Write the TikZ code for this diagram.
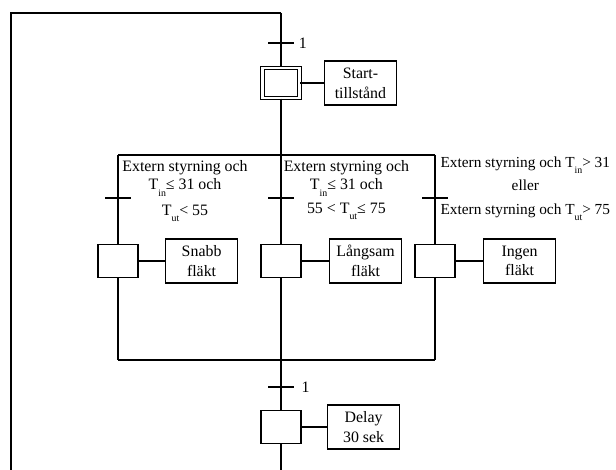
\documentclass[tikz,border=0pt]{standalone}
\usepackage{fontspec}
\setmainfont{Liberation Serif}
\newcommand{\Tind}[1]{T\raisebox{-0.85ex}{\scriptsize #1}}
\tikzset{
  steg/.style={draw, fill=white, minimum width=1cm, minimum height=0.825cm, inner sep=0pt},
  aktion/.style={draw, minimum width=1.8cm, minimum height=1.1cm, align=center, inner sep=1pt},
  villkor/.style={align=center, inner sep=0pt},
}
\begin{document}
\begin{tikzpicture}[line width=0.8pt, font=\fontsize{11.3}{14}\selectfont]
        \useasboundingbox (0,0) rectangle (15.4,11.75);
        %punkter for linjerna
        \coordinate (oTL) at (0.27,11.425);
        \coordinate (oBL) at (0.27,0);
        \coordinate (oTR) at (7.025,11.425);
        \coordinate (slut) at (7.025,0);
        \coordinate (dL) at (2.95,7.875); %divergens
        \coordinate (dM) at (7.025,7.875);
        \coordinate (dR) at (10.875,7.875);
        \coordinate (kL) at (2.95,2.75); %konvergens
        \coordinate (kM) at (7.025,2.75);
        \coordinate (kR) at (10.875,2.75);
        \coordinate (t1) at (7.025,10.675); %overgangar
        \coordinate (tL) at (2.95,6.8);
        \coordinate (tM) at (7.025,6.8);
        \coordinate (tR) at (10.875,6.8);
        \coordinate (t2) at (7.025,2.075);
        %steg och aktioner
        \node[steg, double, double distance=1.8pt, minimum width=0.925cm, minimum height=0.75cm] (init) at (7.025,9.675) {};
        \node[aktion] (start) at (9.01,9.675) {Start-\\tillstånd};
        \node[steg] (s1) at (2.95,5.225) {};
        \node[aktion] (a1) at (5.04,5.225) {Snabb\\fläkt};
        \node[steg] (s2) at (7.025,5.225) {};
        \node[aktion] (a2) at (9.14,5.225) {Långsam\\fläkt};
        \node[steg] (s3) at (10.875,5.225) {};
        \node[aktion] (a3) at (12.99,5.225) {Ingen\\fläkt};
        \node[steg] (d) at (7.025,1.075) {};
        \node[aktion] (delay) at (9.09,1.075) {Delay\\30 sek};
        %yttre slinga
        \draw[line width=1.1pt] (oBL) -- (oTL) -- (oTR);
        \draw (oTR) -- (init.north);
        \draw (init.south) -- (dM);
        \draw (init) -- (start);
        %grenar
        \draw[line width=0.9pt] (dL) -- (dR);
        \draw (dL) -- (s1.north); \draw (s1.south) -- (kL);
        \draw (dM) -- (s2.north); \draw (s2.south) -- (kM);
        \draw[line width=0.9pt] (dR) -- (s3.north); \draw[line width=0.9pt] (s3.south) -- (kR);
        \draw[line width=0.9pt] (kL) -- (kR);
        \draw (s1) -- (a1);
        \draw (s2) -- (a2);
        \draw (s3) -- (a3);
        \draw (kM) -- (d.north);
        \draw (d.south) -- (slut);
        \draw (d) -- (delay);
        %overgangsstreck
        \foreach \t in {t1,tL,tM,tR,t2}
            \draw ([xshift=-0.32cm]\t) -- ([xshift=0.32cm]\t);
        \node[anchor=west, inner sep=0pt] (n1) at ([xshift=0.43cm]t1) {1};
        \node[anchor=west, inner sep=0pt] (n2) at ([xshift=0.5cm]t2) {1};
        %villkor
        \node[villkor, anchor=north] (v1) at (4.625,7.75) {Extern styrning och\\[-1pt] \Tind{in}≤ 31 och\\[4pt] \Tind{ut}< 55};
        \node[villkor, anchor=north] (v2) at (8.66,7.75) {Extern styrning och\\[-1pt] \Tind{in}≤ 31 och\\[3pt] 55 < \Tind{ut}≤ 75};
        \node[villkor, anchor=north west, font=\fontsize{10.9}{14}\selectfont] (v3) at (11.0,7.85) {Extern styrning och \Tind{in}> 31\\[2.7pt] eller\\[2.7pt] Extern styrning och \Tind{ut}> 75};
    \end{tikzpicture}
\end{document}
